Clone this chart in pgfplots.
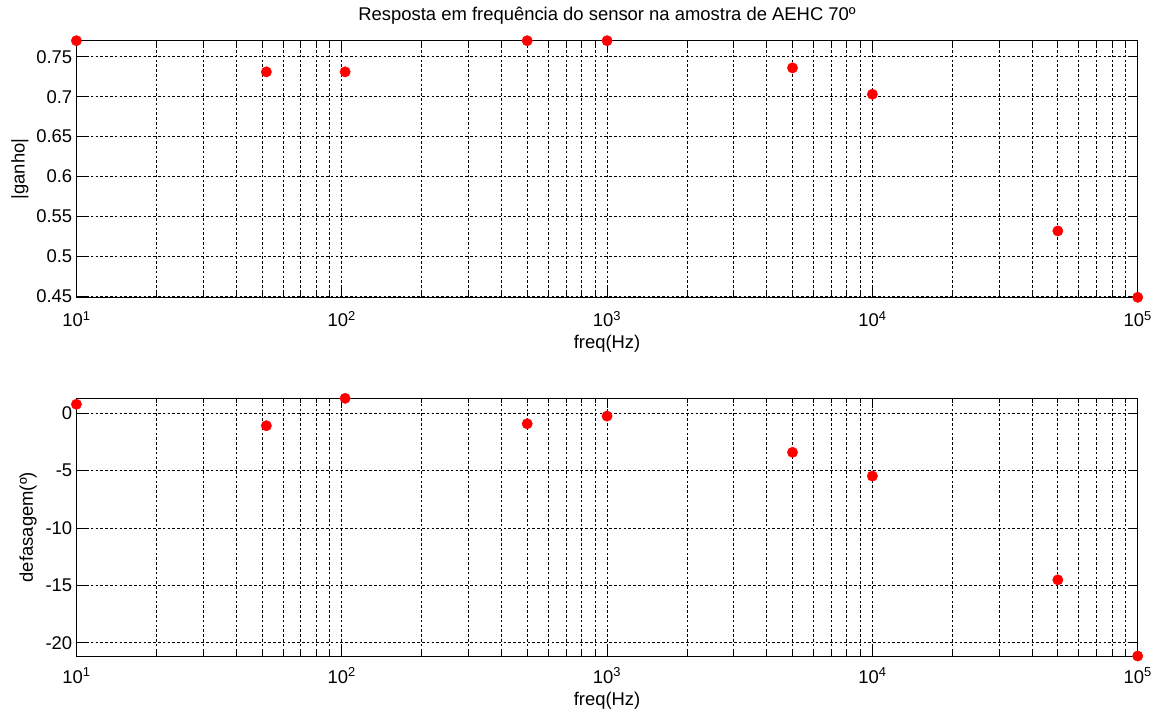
\documentclass[border=0pt]{standalone}
\usepackage{fontspec}
\setmainfont{Liberation Sans}
\usepackage{pgfplots}
\pgfplotsset{compat=1.18}
\begin{document}
\begin{tikzpicture}[x=1bp,y=1bp]
\useasboundingbox (0,0) rectangle (1161,-713);
\begin{axis}[xmode=log, scale only axis, width=1061.3bp, height=256.6bp,
    at={(76.4bp,-297.3bp)}, anchor=south west,
    xmin=10, xmax=100000,
    xtick={10,100,1000,10000,100000},
    xticklabels={10\textsuperscript{1},10\textsuperscript{2},10\textsuperscript{3},10\textsuperscript{4},10\textsuperscript{5}},
    minor xtick={20,30,40,50,60,70,80,90,200,300,400,500,600,700,800,900,2000,3000,4000,5000,6000,7000,8000,9000,20000,30000,40000,50000,60000,70000,80000,90000},
    grid=both,
    major grid style={black, dash pattern=on 2.6bp off 2.2bp, line width=0.7bp},
    minor grid style={black, dash pattern=on 2.6bp off 2.2bp, line width=0.7bp},
    axis line style={black, line width=0.9bp},
    tick style={black, line width=0.7bp},
    major tick length=10bp, minor tick length=5bp,
    tick align=inside, xtick pos=both, ytick pos=both,
    xticklabel pos=bottom, yticklabel pos=left,
    font=\fontsize{18.5}{21}\selectfont,
    tick label style={font=\fontsize{18.5}{21}\selectfont},
    xticklabel style={anchor=base, yshift=-29bp, inner sep=0pt},
    yticklabel style={anchor=east, xshift=-4bp, inner sep=0pt},
    xlabel style={at={(0.5,0)}, anchor=base, yshift=-51bp, inner sep=0pt},
    title style={at={(0.5,1)}, anchor=base, yshift=14.7bp, inner sep=0pt},
    clip=false,
    ymin=0.449, ymax=0.770,
    ytick={0.45,0.5,0.55,0.6,0.65,0.7,0.75},
    yticklabels={0.45,0.5,0.55,0.6,0.65,0.7,0.75},
    xlabel={freq(Hz)}, ylabel={|ganho|},
    ylabel style={at={(0,0.5)}, anchor=center, yshift=56.4bp, inner sep=0pt},
    title={Resposta em frequência do sensor na amostra de AEHC 70º}]
\addplot[only marks, mark=*, mark size=5.2bp, red, mark options={fill=red, draw=red}] coordinates {
(10,0.770) (52,0.731) (103,0.731) (500,0.770) (1000,0.770) (5000,0.736) (10000,0.703) (50000,0.532) (100000,0.449)};
\end{axis}
\begin{axis}[xmode=log, scale only axis, width=1061.3bp, height=257.7bp,
    at={(76.4bp,-656bp)}, anchor=south west,
    xmin=10, xmax=100000,
    xtick={10,100,1000,10000,100000},
    xticklabels={10\textsuperscript{1},10\textsuperscript{2},10\textsuperscript{3},10\textsuperscript{4},10\textsuperscript{5}},
    minor xtick={20,30,40,50,60,70,80,90,200,300,400,500,600,700,800,900,2000,3000,4000,5000,6000,7000,8000,9000,20000,30000,40000,50000,60000,70000,80000,90000},
    grid=both,
    major grid style={black, dash pattern=on 2.6bp off 2.2bp, line width=0.7bp},
    minor grid style={black, dash pattern=on 2.6bp off 2.2bp, line width=0.7bp},
    axis line style={black, line width=0.9bp},
    tick style={black, line width=0.7bp},
    major tick length=10bp, minor tick length=5bp,
    tick align=inside, xtick pos=both, ytick pos=both,
    xticklabel pos=bottom, yticklabel pos=left,
    font=\fontsize{18.5}{21}\selectfont,
    tick label style={font=\fontsize{18.5}{21}\selectfont},
    xticklabel style={anchor=base, yshift=-27bp, inner sep=0pt},
    yticklabel style={anchor=east, xshift=-4bp, inner sep=0pt},
    xlabel style={at={(0.5,0)}, anchor=base, yshift=-49bp, inner sep=0pt},
    clip=false,
    ymin=-21.16, ymax=1.31,
    ytick={-20,-15,-10,-5,0},
    yticklabels={-20,-15,-10,-5,0},
    xlabel={freq(Hz)}, ylabel={defasagem(º)},
    ylabel style={at={(0,0.5)}, anchor=center, yshift=48.4bp, inner sep=0pt}]
\addplot[only marks, mark=*, mark size=5.2bp, red, mark options={fill=red, draw=red}] coordinates {
(10,0.79) (52,-1.08) (103,1.31) (500,-0.91) (1000,-0.24) (5000,-3.40) (10000,-5.47) (50000,-14.52) (100000,-21.16)};
\end{axis}
\end{tikzpicture}
\end{document}
